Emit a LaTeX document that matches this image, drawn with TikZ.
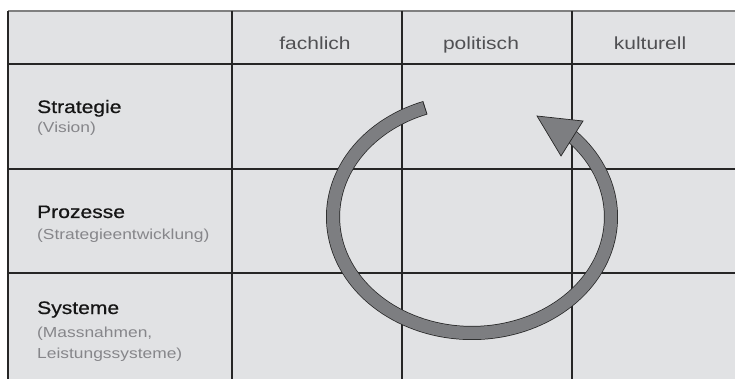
\documentclass[tikz,border=0pt]{standalone}
\usepackage{fontspec}
\newfontfamily\tabfont[FakeStretch=1.2]{Liberation Sans}
\newfontfamily\titlefont[FakeStretch=1.17, FakeBold=0.6]{Liberation Sans}
\usetikzlibrary{positioning}
\definecolor{cellgray}{HTML}{E1E2E4}
\definecolor{headgray}{HTML}{505053}
\definecolor{titleblack}{HTML}{151515}
\definecolor{subgray}{HTML}{86868A}
\definecolor{loopgray}{HTML}{7D7E81}

\begin{document}
\begin{tikzpicture}[
  x=1pt, y=-1pt,
  gridline/.style={draw=black!85, line width=1.1pt},
  colhead/.style={anchor=base, inner sep=0pt, font=\tabfont\fontsize{17.5}{21}\selectfont, text=headgray},
  rowtitle/.style={anchor=base west, inner sep=0pt, font=\titlefont\fontsize{18}{21}\selectfont, text=titleblack},
  rowsub/.style={anchor=base west, inner sep=0pt, font=\tabfont\fontsize{14.5}{21}\selectfont, text=subgray},
  loopedge/.style={draw=black!85, line width=14pt},
  loopfill/.style={draw=loopgray, line width=12.5pt},
  loophead/.style={fill=loopgray, draw=black!85, line width=0.7pt}
]
  \useasboundingbox (0,0) rectangle (735,379);
  \fill[white] (0,0) rectangle (735,379);
  \fill[cellgray] (8,11) rectangle (735,379);

  % Grid
  \draw[gridline, draw=black!50] (8,11) -- (735,11);
  \draw[gridline] (8,11) -- (8,379);
  \foreach \y in {64,169,273}
    \draw[gridline] (8,\y) -- (735,\y);
  \foreach \x in {232,402,572}
    \draw[gridline] (\x,11) -- (\x,379);

  % Column heads
  \node[colhead] (fach) at (315,50) {fachlich};
  \node[colhead] (pol) at (481,50) {politisch};
  \node[colhead] (kult) at (650,50) {kulturell};

  % Row heads
  \node[rowtitle] (strat) at (37,113) {Strategie};
  \node[rowsub] (vision) at ([yshift=-20pt]strat.base west) {(Vision)};
  \node[rowtitle] (proz) at (37,218) {Prozesse};
  \node[rowsub] (entw) at ([yshift=-22pt]proz.base west) {(Strategieentwicklung)};
  \node[rowtitle] (sys) at (37,314) {Systeme};
  \node[rowsub] (mass) at ([yshift=-23pt]sys.base west) {(Massnahmen,};
  \node[rowsub] (leist) at ([yshift=-21pt]mass.base west) {Leistungssysteme)};

  % Cycle arrow
  \draw[loopedge] plot[domain=109.6:406, samples=120] ({472+139*cos(\x)}, {217-116*sin(\x)});
  \draw[loopfill] plot[domain=110:406, samples=120] ({472+139*cos(\x)}, {217-116*sin(\x)});
  \coordinate (tip) at (537,116);
  \coordinate (wingA) at (583,121);
  \coordinate (wingB) at (561,156);
  \filldraw[loophead] (tip) -- (wingA) -- (wingB) -- cycle;
\end{tikzpicture}
\end{document}
